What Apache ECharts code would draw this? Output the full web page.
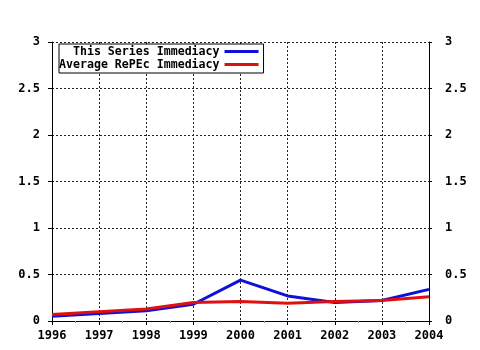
<!DOCTYPE html>
<html><head><meta charset="utf-8">
<script src="https://cdn.jsdelivr.net/npm/echarts@6/dist/echarts.min.js"></script>
<style>html,body{margin:0;padding:0;background:#fff}#c{width:480px;height:350px}</style>
</head><body><div id="c"></div>
<script>
const years = [1996, 1997, 1998, 1999, 2000, 2001, 2002, 2003, 2004];
const seriesImmediacy = [0.05, 0.08, 0.11, 0.18, 0.44, 0.27, 0.20, 0.22, 0.34];
const repecImmediacy = [0.07, 0.10, 0.13, 0.20, 0.21, 0.19, 0.21, 0.22, 0.26];
const seriesNames = ['  This Series Immediacy', 'Average RePEc Immediacy'];

const font = 'DejaVu Sans Mono';
const lbl = {fontFamily: font, fontWeight: 'bold', fontSize: 12, color: '#000'};
const grid = {color: '#222', type: [2, 2], width: 1};
const chart = echarts.init(document.getElementById('c'), null, {renderer: 'canvas'});
const yAxisBase = (pos, margin, tick) => ({
  type: 'value', position: pos, min: 0, max: 3, interval: 0.5,
  axisLine: {show: true, lineStyle: {color: '#000', width: 1}},
  axisTick: {show: true, length: tick, lineStyle: {color: '#000'}},
  splitLine: {show: pos === 'left', lineStyle: grid},
  axisLabel: Object.assign({margin: margin, formatter: v => String(v)}, lbl)
});
chart.setOption({
  animation: false,
  backgroundColor: '#fff',
  grid: {left: 52, right: 51, top: 42, bottom: 29, containLabel: false},
  legend: {
    show: true, orient: 'vertical', left: 59, top: 44, align: 'right',
    backgroundColor: '#fff', borderColor: '#000', borderWidth: 1,
    padding: [1, 5, 2, 0], itemGap: 0, itemWidth: 34, itemHeight: 3,
    icon: 'rect',
    textStyle: {fontFamily: font, fontWeight: 'bold', fontSize: 11.6, color: '#000', lineHeight: 13},
    data: seriesNames
  },
  xAxis: {
    type: 'value', min: years[0], max: years[years.length - 1], interval: 1,
    axisLine: {show: true, onZero: false, lineStyle: {color: '#000', width: 1}},
    axisTick: {show: true, length: 4, lineStyle: {color: '#000'}},
    minorTick: {show: true, splitNumber: 2, length: 2, lineStyle: {color: '#999'}},
    splitLine: {show: true, lineStyle: grid},
    axisLabel: Object.assign({margin: 9, formatter: v => String(v)}, lbl)
  },
  yAxis: [yAxisBase('left', 12, 4), yAxisBase('right', 16, 3)],
  series: [
    {name: seriesNames[0], type: 'line', showSymbol: false, symbol: 'none',
     lineStyle: {width: 3, color: '#1010d8'}, itemStyle: {color: '#1010d8'},
     data: years.map((y, i) => [y, seriesImmediacy[i]]), z: 3},
    {name: seriesNames[1], type: 'line', showSymbol: false, symbol: 'none',
     lineStyle: {width: 3, color: '#e01010'}, itemStyle: {color: '#e01010'},
     data: years.map((y, i) => [y, repecImmediacy[i]]), z: 4}
  ]
});
</script></body></html>
